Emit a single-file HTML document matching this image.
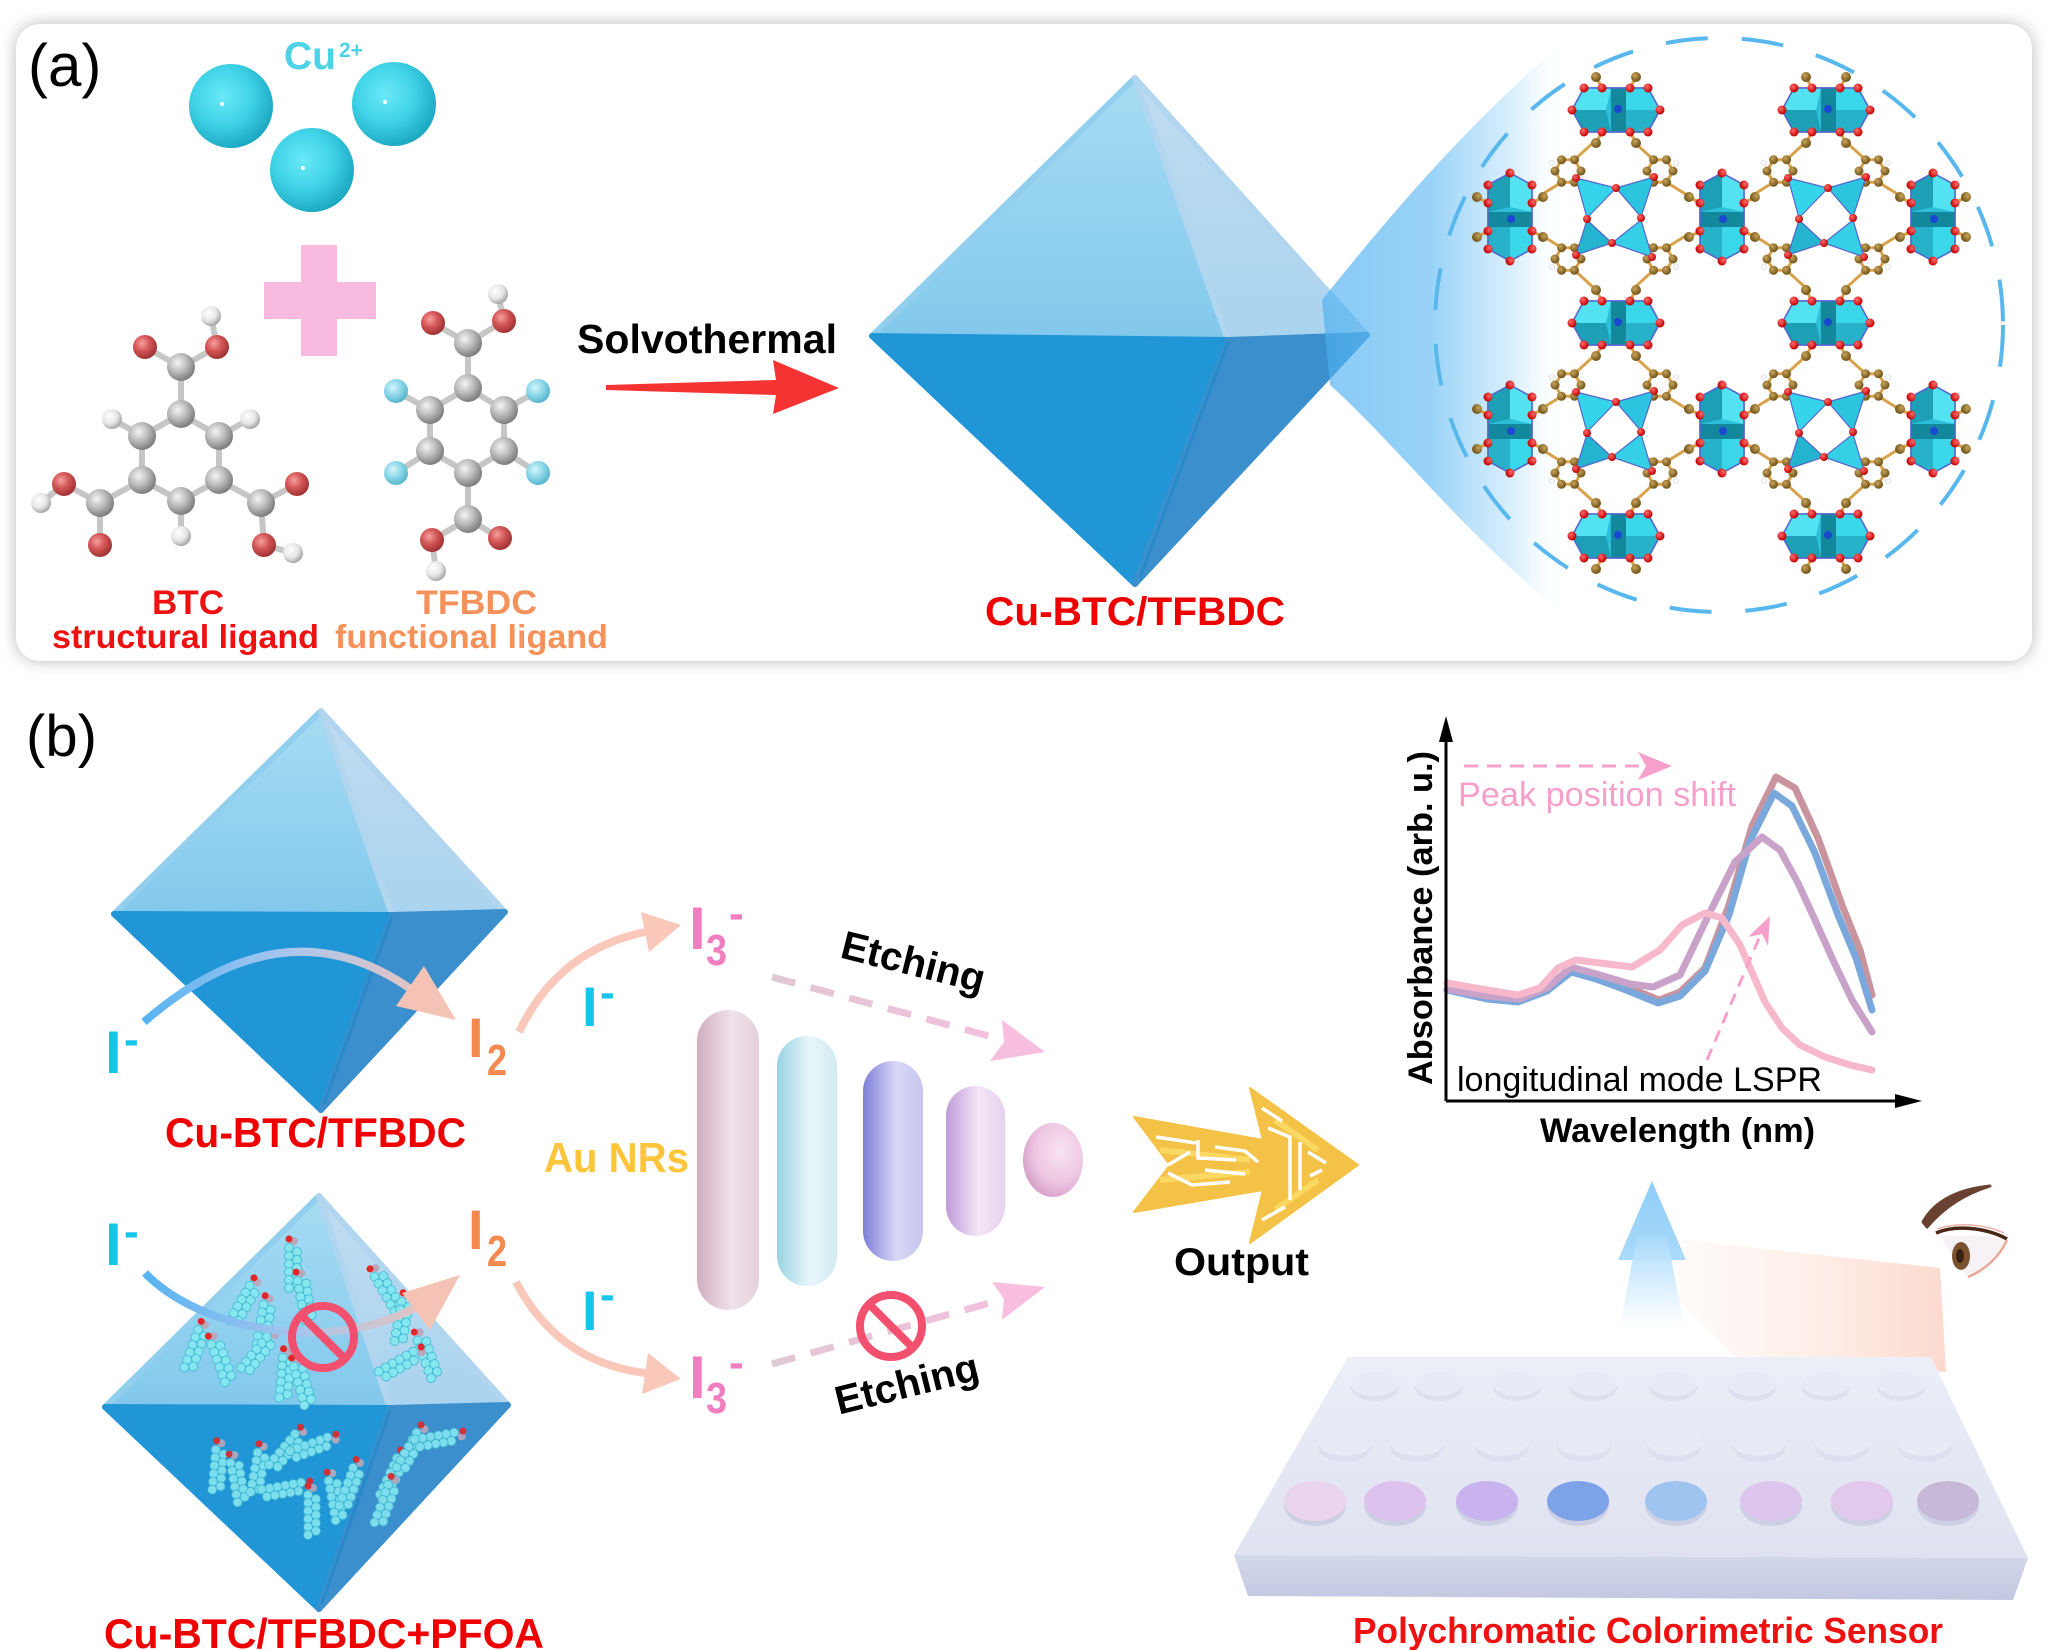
<!DOCTYPE html>
<html><head><meta charset="utf-8"><style>
html,body{margin:0;padding:0;background:#fff;}
svg{display:block;}
text{font-family:"Liberation Sans",Arial,sans-serif;}
</style></head><body>
<svg width="2048" height="1650" viewBox="0 0 2048 1650" xmlns="http://www.w3.org/2000/svg">
<defs>
<filter id="sh" x="-5%" y="-10%" width="110%" height="120%"><feGaussianBlur stdDeviation="8"/></filter>
<radialGradient id="cuG" cx="40%" cy="38%" r="65%"><stop offset="0" stop-color="#6ae9f7"/><stop offset="0.55" stop-color="#3ed2e6"/><stop offset="1" stop-color="#1ba6c0"/></radialGradient>
<radialGradient id="cG" cx="38%" cy="35%" r="65%"><stop offset="0" stop-color="#f4f4f4"/><stop offset="0.5" stop-color="#bdbdbd"/><stop offset="1" stop-color="#7e7e7e"/></radialGradient>
<radialGradient id="oG" cx="38%" cy="35%" r="65%"><stop offset="0" stop-color="#f7a0a0"/><stop offset="0.5" stop-color="#d45656"/><stop offset="1" stop-color="#a03434"/></radialGradient>
<radialGradient id="hG" cx="38%" cy="35%" r="65%"><stop offset="0" stop-color="#ffffff"/><stop offset="0.6" stop-color="#e6e6e6"/><stop offset="1" stop-color="#a8a8a8"/></radialGradient>
<radialGradient id="fG" cx="38%" cy="35%" r="65%"><stop offset="0" stop-color="#d4f6fb"/><stop offset="0.55" stop-color="#8ad6e8"/><stop offset="1" stop-color="#5ab6cc"/></radialGradient>
<radialGradient id="brG" cx="38%" cy="35%" r="65%"><stop offset="0" stop-color="#c9a45a"/><stop offset="1" stop-color="#6e5218"/></radialGradient>
<radialGradient id="rdG" cx="38%" cy="35%" r="65%"><stop offset="0" stop-color="#ff6a6a"/><stop offset="1" stop-color="#c00000"/></radialGradient>
<linearGradient id="beamG" gradientUnits="userSpaceOnUse" x1="1320" y1="0" x2="1566" y2="0">
<stop offset="0" stop-color="#4aaef0" stop-opacity="0.65"/><stop offset="0.45" stop-color="#76c3f5" stop-opacity="0.75"/><stop offset="0.8" stop-color="#bfe4fb" stop-opacity="0.55"/><stop offset="1" stop-color="#ffffff" stop-opacity="0"/></linearGradient>
<linearGradient id="ulG" x1="0" y1="0" x2="0" y2="1"><stop offset="0" stop-color="#a6dcf3"/><stop offset="1" stop-color="#82c8ec"/></linearGradient>
<linearGradient id="urG" x1="0" y1="0" x2="0" y2="1"><stop offset="0" stop-color="#c0ddf1"/><stop offset="1" stop-color="#a9d3ef"/></linearGradient>
<linearGradient id="arcG1" gradientUnits="userSpaceOnUse" x1="144" y1="0" x2="456" y2="0"><stop offset="0" stop-color="#58b4f2"/><stop offset="0.45" stop-color="#a8c6ee"/><stop offset="1" stop-color="#f6c3b4"/></linearGradient>
<linearGradient id="arcG2" gradientUnits="userSpaceOnUse" x1="145" y1="0" x2="460" y2="0"><stop offset="0" stop-color="#58b4f2"/><stop offset="0.5" stop-color="#a9c4ec"/><stop offset="1" stop-color="#f6c3b4"/></linearGradient>
<linearGradient id="dashG" gradientUnits="userSpaceOnUse" x1="772" y1="0" x2="1045" y2="0"><stop offset="0" stop-color="#e0c8d4"/><stop offset="1" stop-color="#f7bedf"/></linearGradient>
<linearGradient id="rod1" x1="0" y1="0" x2="1" y2="0"><stop offset="0" stop-color="#cfadbf"/><stop offset="0.55" stop-color="#f0e2ea"/><stop offset="1" stop-color="#e4d0da"/></linearGradient>
<linearGradient id="rod2" x1="0" y1="0" x2="1" y2="0"><stop offset="0" stop-color="#98d2e2"/><stop offset="0.55" stop-color="#e8f6fa"/><stop offset="1" stop-color="#d2ebf2"/></linearGradient>
<linearGradient id="rod3" x1="0" y1="0" x2="1" y2="0"><stop offset="0" stop-color="#7e7ed6"/><stop offset="0.55" stop-color="#d8d8f7"/><stop offset="1" stop-color="#c6c6ee"/></linearGradient>
<linearGradient id="rod4" x1="0" y1="0" x2="1" y2="0"><stop offset="0" stop-color="#c09ada"/><stop offset="0.55" stop-color="#f3e6f6"/><stop offset="1" stop-color="#e6d2ee"/></linearGradient>
<radialGradient id="rod5" cx="62%" cy="38%" r="70%"><stop offset="0" stop-color="#f8e4f2"/><stop offset="0.6" stop-color="#eec6e2"/><stop offset="1" stop-color="#d29cc6"/></radialGradient>
<linearGradient id="upG" gradientUnits="userSpaceOnUse" x1="0" y1="1236" x2="0" y2="1326"><stop offset="0" stop-color="#a8dafa"/><stop offset="1" stop-color="#ffffff"/></linearGradient>
<linearGradient id="headG" gradientUnits="userSpaceOnUse" x1="0" y1="1181" x2="0" y2="1260"><stop offset="0" stop-color="#8fcdf7"/><stop offset="1" stop-color="#a9dafa"/></linearGradient>
<linearGradient id="peachG" gradientUnits="userSpaceOnUse" x1="1610" y1="0" x2="1946" y2="0"><stop offset="0" stop-color="#fde6dc" stop-opacity="0"/><stop offset="0.5" stop-color="#fcdacd" stop-opacity="0.35"/><stop offset="1" stop-color="#fbcdbd" stop-opacity="0.75"/></linearGradient>
<linearGradient id="plateT" x1="0" y1="0" x2="0" y2="1"><stop offset="0" stop-color="#eceef8"/><stop offset="1" stop-color="#dfe2f0"/></linearGradient>
<linearGradient id="plateF" x1="0" y1="0" x2="0" y2="1"><stop offset="0" stop-color="#d4d8ec"/><stop offset="1" stop-color="#c3c8e1"/></linearGradient>

<g id="rg">
<polygon points="13,0 6.5,11.3 -6.5,11.3 -13,0 -6.5,-11.3 6.5,-11.3" fill="none" stroke="#d8a24c" stroke-width="3"/>
<circle cx="13" cy="0" r="4.5" fill="url(#brG)"/><circle cx="6.5" cy="11.3" r="4.5" fill="url(#brG)"/><circle cx="-6.5" cy="11.3" r="4.5" fill="url(#brG)"/><circle cx="-13" cy="0" r="4.5" fill="url(#brG)"/><circle cx="-6.5" cy="-11.3" r="4.5" fill="url(#brG)"/><circle cx="6.5" cy="-11.3" r="4.5" fill="url(#brG)"/>
</g>

<g id="hc">
<g stroke="#d8a24c" stroke-width="3">
<line x1="-14" y1="-22" x2="-20" y2="-33"/><line x1="14" y1="-22" x2="20" y2="-33"/><line x1="-14" y1="22" x2="-20" y2="33"/><line x1="14" y1="22" x2="20" y2="33"/>
</g>
<polygon points="-44,0 -32,-22 32,-22 44,0 32,22 -32,22" fill="#2bbfd8" stroke="#5566cc" stroke-width="1.5"/>
<polygon points="-44,0 -32,-22 -5,-22 -10,0" fill="#52e2f2"/>
<polygon points="-44,0 -10,0 -5,22 -32,22" fill="#1d9fb6"/>
<polygon points="-5,-22 10,-22 10,22 -5,22" fill="#13889c"/>
<polygon points="10,-22 32,-22 44,0 10,0" fill="#3ad6ea"/>
<polygon points="10,0 44,0 32,22 10,22" fill="#27b2ca"/>
<polygon points="-44,0 -32,-22 32,-22 44,0 32,22 -32,22" fill="none" stroke="#5566cc" stroke-width="1.5"/>
<circle cx="2" cy="-1" r="4" fill="#1a48d0"/>
<g fill="url(#rdG)">
<circle cx="-32" cy="-22" r="4.5"/><circle cx="-14" cy="-22" r="4.5"/><circle cx="14" cy="-22" r="4.5"/><circle cx="32" cy="-22" r="4.5"/><circle cx="-44" cy="0" r="4.5"/><circle cx="44" cy="0" r="4.5"/><circle cx="-32" cy="22" r="4.5"/><circle cx="-14" cy="22" r="4.5"/><circle cx="14" cy="22" r="4.5"/><circle cx="32" cy="22" r="4.5"/>
</g>
<g fill="url(#brG)"><circle cx="-20" cy="-33" r="5"/><circle cx="20" cy="-33" r="5"/><circle cx="-20" cy="33" r="5"/><circle cx="20" cy="33" r="5"/></g>
</g>

<g id="tu">
<g stroke="#d8a24c" stroke-width="3">
<line x1="-39.5" y1="-55.3" x2="-20" y2="-73"/><line x1="-52.5" y1="-32.7" x2="-73" y2="-20"/><line x1="-39.5" y1="-32.7" x2="-30" y2="-28"/>
<line x1="39.5" y1="-55.3" x2="20" y2="-73"/><line x1="52.5" y1="-32.7" x2="73" y2="-20"/><line x1="39.5" y1="-32.7" x2="30" y2="-28"/>
<line x1="-39.5" y1="55.3" x2="-20" y2="73"/><line x1="-52.5" y1="32.7" x2="-73" y2="20"/><line x1="-39.5" y1="32.7" x2="-30" y2="28"/>
<line x1="39.5" y1="55.3" x2="20" y2="73"/><line x1="52.5" y1="32.7" x2="73" y2="20"/><line x1="39.5" y1="32.7" x2="30" y2="28"/>
</g>
<use href="#rg" x="-46" y="-44"/><use href="#rg" x="46" y="-44"/><use href="#rg" x="-46" y="44"/><use href="#rg" x="46" y="44"/>
<g stroke="#5566cc" stroke-width="1.2">
<polygon points="-38,-37 2,-27 -27,3" fill="#36d4ea"/>
<polygon points="2,-27 40,-38 27,2" fill="#2cc4de"/>
<polygon points="-27,5 -38,40 -2,28" fill="#24b4cf"/>
<polygon points="27,5 38,42 -2,28" fill="#35cfe6"/>
</g>
<g fill="url(#rdG)">
<circle cx="-38" cy="-37" r="4"/><circle cx="40" cy="-38" r="4"/><circle cx="-38" cy="40" r="4"/><circle cx="38" cy="42" r="4"/><circle cx="2" cy="-27" r="4"/><circle cx="27" cy="3" r="4"/><circle cx="-2" cy="28" r="4"/><circle cx="-27" cy="4" r="4"/>
</g>
<g fill="#ffffff" stroke="#cccccc" stroke-width="0.6"><circle cx="-62" cy="-52" r="2.5"/><circle cx="62" cy="-52" r="2.5"/><circle cx="-62" cy="52" r="2.5"/><circle cx="62" cy="52" r="2.5"/></g>
</g>

<g id="pf">
<g fill="#86e6f0" stroke="#3fb8d0" stroke-width="0.8">
<circle cx="-4" cy="-20" r="4.5"/><circle cx="4" cy="-16" r="4.5"/><circle cx="-4" cy="-12" r="4.5"/><circle cx="4" cy="-8" r="4.5"/><circle cx="-4" cy="-4" r="4.5"/><circle cx="4" cy="0" r="4.5"/><circle cx="-4" cy="4" r="4.5"/><circle cx="4" cy="8" r="4.5"/><circle cx="-4" cy="12" r="4.5"/><circle cx="4" cy="16" r="4.5"/><circle cx="-4" cy="20" r="4.5"/>
</g>
<circle cx="1" cy="-27" r="4" fill="#b8a8bc"/><circle cx="-4" cy="-29" r="3.5" fill="#e02828"/>
</g>
</defs>

<!-- PANEL A -->
<rect x="16" y="24" width="2016" height="637" rx="24" fill="#b9b9b9" filter="url(#sh)"/>
<rect x="16" y="24" width="2016" height="637" rx="24" fill="#ffffff"/>

<text x="28" y="86" font-size="60">(a)</text>
<text x="284" y="69" font-size="39" font-weight="bold" fill="#4ed2e6">Cu</text>
<text x="339" y="57" font-size="21" font-weight="bold" fill="#4ed2e6">2+</text>

<circle cx="231" cy="106" r="42" fill="url(#cuG)"/>
<circle cx="394" cy="104" r="42" fill="url(#cuG)"/>
<circle cx="312" cy="170" r="42" fill="url(#cuG)"/>
<circle cx="222" cy="104" r="2" fill="#fff"/><circle cx="385" cy="102" r="2" fill="#fff"/><circle cx="303" cy="168" r="2" fill="#fff"/>

<rect x="264" y="282" width="112" height="37" fill="#f9bae0"/>
<rect x="301" y="245" width="36" height="111" fill="#f9bae0"/>

<!-- BTC -->
<g stroke="#c6c6c6" stroke-width="6">
<line x1="181" y1="414" x2="142" y2="436"/><line x1="181" y1="414" x2="219" y2="436"/><line x1="142" y1="436" x2="142" y2="480"/><line x1="219" y1="436" x2="219" y2="480"/><line x1="142" y1="480" x2="181" y2="501"/><line x1="219" y1="480" x2="181" y2="501"/>
<line x1="181" y1="414" x2="181" y2="367"/><line x1="181" y1="367" x2="145" y2="347"/><line x1="181" y1="367" x2="217" y2="347"/><line x1="217" y1="347" x2="211" y2="316"/>
<line x1="142" y1="436" x2="112" y2="419"/><line x1="219" y1="436" x2="250" y2="419"/><line x1="181" y1="501" x2="181" y2="536"/>
<line x1="142" y1="480" x2="100" y2="503"/><line x1="100" y1="503" x2="64" y2="484"/><line x1="64" y1="484" x2="41" y2="503"/><line x1="100" y1="503" x2="100" y2="545"/>
<line x1="219" y1="480" x2="261" y2="503"/><line x1="261" y1="503" x2="297" y2="484"/><line x1="261" y1="503" x2="264" y2="545"/><line x1="264" y1="545" x2="293" y2="553"/>
</g>
<g>
<circle cx="211" cy="316" r="10" fill="url(#hG)"/><circle cx="112" cy="419" r="10" fill="url(#hG)"/><circle cx="250" cy="419" r="10" fill="url(#hG)"/><circle cx="181" cy="536" r="10" fill="url(#hG)"/><circle cx="41" cy="503" r="10" fill="url(#hG)"/><circle cx="293" cy="553" r="10" fill="url(#hG)"/>
<circle cx="145" cy="347" r="12" fill="url(#oG)"/><circle cx="217" cy="347" r="12" fill="url(#oG)"/><circle cx="64" cy="484" r="12" fill="url(#oG)"/><circle cx="100" cy="545" r="12" fill="url(#oG)"/><circle cx="297" cy="484" r="12" fill="url(#oG)"/><circle cx="264" cy="545" r="12" fill="url(#oG)"/>
<circle cx="181" cy="367" r="14" fill="url(#cG)"/><circle cx="181" cy="414" r="14" fill="url(#cG)"/><circle cx="142" cy="436" r="14" fill="url(#cG)"/><circle cx="219" cy="436" r="14" fill="url(#cG)"/><circle cx="142" cy="480" r="14" fill="url(#cG)"/><circle cx="219" cy="480" r="14" fill="url(#cG)"/><circle cx="181" cy="501" r="14" fill="url(#cG)"/><circle cx="100" cy="503" r="14" fill="url(#cG)"/><circle cx="261" cy="503" r="14" fill="url(#cG)"/>
</g>

<!-- TFBDC -->
<g stroke="#c6c6c6" stroke-width="6">
<line x1="468" y1="388" x2="430" y2="410"/><line x1="468" y1="388" x2="504" y2="410"/><line x1="430" y1="410" x2="430" y2="451"/><line x1="504" y1="410" x2="504" y2="451"/><line x1="430" y1="451" x2="468" y2="473"/><line x1="504" y1="451" x2="468" y2="473"/>
<line x1="468" y1="388" x2="468" y2="343"/><line x1="468" y1="343" x2="433" y2="323"/><line x1="468" y1="343" x2="504" y2="321"/><line x1="504" y1="321" x2="498" y2="294"/>
<line x1="430" y1="410" x2="396" y2="391"/><line x1="504" y1="410" x2="538" y2="391"/><line x1="430" y1="451" x2="396" y2="473"/><line x1="504" y1="451" x2="538" y2="473"/>
<line x1="468" y1="473" x2="468" y2="519"/><line x1="468" y1="519" x2="432" y2="540"/><line x1="468" y1="519" x2="500" y2="538"/><line x1="432" y1="540" x2="436" y2="571"/>
</g>
<g>
<circle cx="498" cy="294" r="10" fill="url(#hG)"/><circle cx="436" cy="571" r="10" fill="url(#hG)"/>
<circle cx="433" cy="323" r="12" fill="url(#oG)"/><circle cx="504" cy="321" r="12" fill="url(#oG)"/><circle cx="432" cy="540" r="12" fill="url(#oG)"/><circle cx="500" cy="538" r="12" fill="url(#oG)"/>
<circle cx="396" cy="391" r="12" fill="url(#fG)"/><circle cx="538" cy="391" r="12" fill="url(#fG)"/><circle cx="396" cy="473" r="12" fill="url(#fG)"/><circle cx="538" cy="473" r="12" fill="url(#fG)"/>
<circle cx="468" cy="343" r="14" fill="url(#cG)"/><circle cx="468" cy="388" r="14" fill="url(#cG)"/><circle cx="430" cy="410" r="14" fill="url(#cG)"/><circle cx="504" cy="410" r="14" fill="url(#cG)"/><circle cx="430" cy="451" r="14" fill="url(#cG)"/><circle cx="504" cy="451" r="14" fill="url(#cG)"/><circle cx="468" cy="473" r="14" fill="url(#cG)"/><circle cx="468" cy="519" r="14" fill="url(#cG)"/>
</g>

<text x="152" y="614" font-size="34" font-weight="bold" fill="#ee1111" textLength="72" lengthAdjust="spacingAndGlyphs">BTC</text>
<text x="416" y="614" font-size="34" font-weight="bold" fill="#f5915a" textLength="121" lengthAdjust="spacingAndGlyphs">TFBDC</text>
<text x="52" y="648" font-size="33" font-weight="bold" fill="#ee1111" textLength="267" lengthAdjust="spacingAndGlyphs">structural ligand</text>
<text x="335" y="648" font-size="33" font-weight="bold" fill="#f5915a" textLength="273" lengthAdjust="spacingAndGlyphs">functional ligand</text>

<text x="577" y="353" font-size="41" font-weight="bold" fill="#000" textLength="260" lengthAdjust="spacingAndGlyphs">Solvothermal</text>
<polygon points="606,385 776,380 773,360 839,388 773,414 776,395 606,390" fill="#f63333"/>

<!-- octahedron a -->
<g stroke-linejoin="round" stroke-width="6">
<polygon points="1135,78 872,336 1228,340" fill="url(#ulG)" stroke="#92cfee"/>
<polygon points="1135,78 1228,340 1367,335" fill="url(#urG)" stroke="#b2d6ef"/>
<polygon points="872,336 1228,340 1135,584" fill="#2196d6" stroke="#2196d6"/>
<polygon points="1228,340 1367,335 1135,584" fill="#3b8fcc" stroke="#3b8fcc"/>
</g>
<line x1="1228" y1="342" x2="1140" y2="578" stroke="#1a86c8" stroke-width="3" opacity="0.6"/>

<!-- beam -->
<path d="M1322,300 C1380,228 1460,130 1566,40 L1566,616 C1470,540 1392,440 1330,385 Z" fill="url(#beamG)"/>
<ellipse cx="1719" cy="325" rx="284" ry="287" fill="none" stroke="#58b8ee" stroke-width="4" stroke-dasharray="42 34"/>

<!-- MOF -->
<use href="#tu" x="1614" y="215"/><use href="#tu" x="1826" y="215"/><use href="#tu" x="1614" y="429"/><use href="#tu" x="1826" y="429"/>
<use href="#hc" x="1616" y="110"/><use href="#hc" x="1826" y="110"/><use href="#hc" x="1616" y="323"/><use href="#hc" x="1826" y="323"/><use href="#hc" x="1616" y="536"/><use href="#hc" x="1826" y="536"/>
<use href="#hc" transform="translate(1510,217) rotate(90)"/><use href="#hc" transform="translate(1722,217) rotate(90)"/><use href="#hc" transform="translate(1933,217) rotate(90)"/>
<use href="#hc" transform="translate(1510,429) rotate(90)"/><use href="#hc" transform="translate(1722,429) rotate(90)"/><use href="#hc" transform="translate(1933,429) rotate(90)"/>

<text x="985" y="625" font-size="40" font-weight="bold" fill="#ee0000" textLength="300" lengthAdjust="spacingAndGlyphs">Cu-BTC/TFBDC</text>

<!-- PANEL B -->
<text x="26" y="756" font-size="58">(b)</text>

<!-- octa b1 -->
<g stroke-linejoin="round" stroke-width="6">
<polygon points="321,711 114,914 392,915" fill="url(#ulG)" stroke="#92cfee"/>
<polygon points="321,711 392,915 505,912" fill="url(#urG)" stroke="#b2d6ef"/>
<polygon points="114,914 392,915 321,1110" fill="#2196d6" stroke="#2196d6"/>
<polygon points="392,915 505,912 321,1110" fill="#3b8fcc" stroke="#3b8fcc"/>
</g>
<line x1="392" y1="917" x2="324" y2="1104" stroke="#1a86c8" stroke-width="3" opacity="0.6"/>

<path d="M144,1022 Q285,900 412,990" fill="none" stroke="url(#arcG1)" stroke-width="8"/>
<polygon points="456,1020 424,966 396,1006" fill="#f5c3b5"/>

<text x="165" y="1147" font-size="42" font-weight="bold" fill="#ee0000" textLength="301" lengthAdjust="spacingAndGlyphs">Cu-BTC/TFBDC</text>

<!-- octa b2 -->
<g stroke-linejoin="round" stroke-width="6">
<polygon points="319,1196 105,1407 390,1408" fill="url(#ulG)" stroke="#92cfee"/>
<polygon points="319,1196 390,1408 508,1405" fill="url(#urG)" stroke="#b2d6ef"/>
<polygon points="105,1407 390,1408 319,1609" fill="#2196d6" stroke="#2196d6"/>
<polygon points="390,1408 508,1405 319,1609" fill="#3b8fcc" stroke="#3b8fcc"/>
</g>
<line x1="390" y1="1410" x2="322" y2="1603" stroke="#1a86c8" stroke-width="3" opacity="0.6"/>
<g>
<use href="#pf" transform="translate(293,1268)"/>
<use href="#pf" transform="translate(305,1300) rotate(-10)"/>
<use href="#pf" transform="translate(243,1305) rotate(30)"/>
<use href="#pf" transform="translate(264,1325) rotate(10)"/>
<use href="#pf" transform="translate(195,1350) rotate(20)"/>
<use href="#pf" transform="translate(222,1362) rotate(-20)"/>
<use href="#pf" transform="translate(257,1355) rotate(40)"/>
<use href="#pf" transform="translate(285,1378) rotate(5)"/>
<use href="#pf" transform="translate(303,1385) rotate(-15)"/>
<use href="#pf" transform="translate(388,1292) rotate(-30)"/>
<use href="#pf" transform="translate(402,1322) rotate(10)"/>
<use href="#pf" transform="translate(428,1358) rotate(-20)"/>
<use href="#pf" transform="translate(398,1365) rotate(60)"/>
</g>
<g opacity="0.9">
<use href="#pf" transform="translate(218,1470) rotate(5)"/>
<use href="#pf" transform="translate(238,1482) rotate(-10)"/>
<use href="#pf" transform="translate(258,1473) rotate(10)"/>
<use href="#pf" transform="translate(285,1452) rotate(40)"/>
<use href="#pf" transform="translate(310,1448) rotate(70)"/>
<use href="#pf" transform="translate(282,1490) rotate(80)"/>
<use href="#pf" transform="translate(312,1515)"/>
<use href="#pf" transform="translate(336,1500) rotate(-10)"/>
<use href="#pf" transform="translate(350,1488) rotate(20)"/>
<use href="#pf" transform="translate(392,1478) rotate(25)"/>
<use href="#pf" transform="translate(410,1452) rotate(30)"/>
<use href="#pf" transform="translate(435,1440) rotate(80)"/>
<use href="#pf" transform="translate(385,1505) rotate(20)"/>
</g>

<path d="M145,1273 C200,1330 330,1355 416,1307" fill="none" stroke="url(#arcG2)" stroke-width="8"/>
<polygon points="460,1275 402,1293 430,1330" fill="#f5c3b5"/>
<circle cx="323" cy="1337" r="31" fill="none" stroke="#f2506e" stroke-width="8"/>
<line x1="301" y1="1315" x2="345" y2="1359" stroke="#f2506e" stroke-width="8"/>

<text x="104" y="1648" font-size="42" font-weight="bold" fill="#ee0000" textLength="440" lengthAdjust="spacingAndGlyphs">Cu-BTC/TFBDC+PFOA</text>

<!-- ion labels -->
<g font-weight="bold">
<text x="105" y="1073" font-size="60" fill="#19c4ea">I</text><text x="124" y="1054" font-size="44" fill="#19c4ea">-</text>
<text x="105" y="1265" font-size="60" fill="#19c4ea">I</text><text x="124" y="1246" font-size="44" fill="#19c4ea">-</text>
<text x="582" y="1026" font-size="56" fill="#19c4ea">I</text><text x="600" y="1007" font-size="44" fill="#19c4ea">-</text>
<text x="582" y="1330" font-size="56" fill="#19c4ea">I</text><text x="600" y="1309" font-size="44" fill="#19c4ea">-</text>
<text x="468" y="1057" font-size="56" fill="#f5894f">I</text><text x="487" y="1075" font-size="44" fill="#f5894f" textLength="20" lengthAdjust="spacingAndGlyphs">2</text>
<text x="468" y="1249" font-size="56" fill="#f5894f">I</text><text x="487" y="1266" font-size="44" fill="#f5894f" textLength="20" lengthAdjust="spacingAndGlyphs">2</text>
<text x="689" y="949" font-size="60" fill="#f27dc0">I</text><text x="706" y="965" font-size="44" fill="#f27dc0" textLength="21" lengthAdjust="spacingAndGlyphs">3</text><text x="729" y="928" font-size="44" fill="#f27dc0">-</text>
<text x="689" y="1398" font-size="60" fill="#f27dc0">I</text><text x="706" y="1413" font-size="44" fill="#f27dc0" textLength="21" lengthAdjust="spacingAndGlyphs">3</text><text x="729" y="1377" font-size="44" fill="#f27dc0">-</text>
</g>

<!-- I2 -> I3 arrows -->
<path d="M519,1032 Q558,950 645,932" fill="none" stroke="#f9c8ba" stroke-width="8"/>
<polygon points="681,925 649,952 641,912" fill="#f9c8ba"/>
<path d="M516,1282 Q558,1362 645,1373" fill="none" stroke="#f9c8ba" stroke-width="8"/>
<polygon points="681,1379 642,1394 648,1353" fill="#f9c8ba"/>

<!-- etching dashed arrows -->
<line x1="772" y1="977" x2="1000" y2="1039" stroke="url(#dashG)" stroke-width="7" stroke-dasharray="24 16"/>
<polygon points="1045,1052 1002,1020 1004,1042 990,1061" fill="#f7bedf"/>
<line x1="772" y1="1364" x2="1000" y2="1300" stroke="url(#dashG)" stroke-width="7" stroke-dasharray="24 16"/>
<polygon points="1045,1287 992,1282 1004,1299 1002,1320" fill="#f7bedf"/>
<circle cx="891" cy="1326" r="31" fill="none" stroke="#f2506e" stroke-width="8"/>
<line x1="869" y1="1304" x2="913" y2="1348" stroke="#f2506e" stroke-width="8"/>

<text transform="translate(910,975) rotate(14)" text-anchor="middle" font-size="40" font-weight="bold" fill="#000">Etching</text>
<text transform="translate(910,1397) rotate(-14)" text-anchor="middle" font-size="40" font-weight="bold" fill="#000">Etching</text>

<text x="544" y="1172" font-size="42" font-weight="bold" fill="#fcc53c" textLength="145" lengthAdjust="spacingAndGlyphs">Au NRs</text>

<!-- nanorods -->
<rect x="697" y="1010" width="62" height="300" rx="31" fill="url(#rod1)"/>
<rect x="777" y="1036" width="60" height="250" rx="30" fill="url(#rod2)"/>
<rect x="863" y="1061" width="60" height="200" rx="30" fill="url(#rod3)"/>
<rect x="946" y="1086" width="59" height="150" rx="29.5" fill="url(#rod4)"/>
<ellipse cx="1053" cy="1160" rx="30" ry="37" fill="url(#rod5)"/>

<!-- Output arrow -->
<polygon points="1134,1117 1263,1140 1250,1088 1358,1165 1250,1243 1263,1190 1134,1212 1170,1165" fill="#f4c247" stroke="#f4c247" stroke-width="2" stroke-linejoin="round"/>
<g fill="none" stroke="#fbd861" stroke-width="6">
<path d="M1160,1150 L1250,1160"/><path d="M1160,1180 L1250,1172"/><path d="M1275,1120 L1318,1150"/><path d="M1275,1210 L1318,1180"/>
</g>
<g fill="none" stroke="#ffffff" stroke-width="3.5">
<path d="M1156,1137 L1196,1143"/><path d="M1198,1140 L1198,1158 L1236,1160"/><path d="M1168,1165 L1190,1152"/>
<path d="M1168,1173 L1192,1185 L1230,1182"/><path d="M1205,1170 L1245,1174"/><path d="M1215,1147 L1245,1151 L1258,1162"/>
<path d="M1262,1108 L1282,1121"/><path d="M1268,1128 L1290,1137 L1290,1200"/><path d="M1300,1142 L1300,1190"/>
<path d="M1308,1152 L1326,1163"/><path d="M1262,1220 L1285,1207"/><path d="M1310,1176 L1322,1170"/>
</g>
<text x="1174" y="1275" font-size="39" font-weight="bold" fill="#000" textLength="135" lengthAdjust="spacingAndGlyphs">Output</text>

<!-- Chart -->
<polyline points="1448,989 1487,996 1523,999 1547,989 1572,968 1600,976 1630,988 1659,1000 1680,992 1705,968 1729,905 1752,826 1776,777 1795,788 1818,838 1842,905 1860,950 1872,995" fill="none" stroke="#c9949e" stroke-width="7" stroke-linejoin="round" stroke-linecap="round"/>
<polyline points="1447,990 1487,999 1518,1002 1547,991 1571,972 1596,979 1626,990 1658,1003 1680,996 1705,971 1729,915 1750,841 1774,793 1792,806 1815,853 1838,915 1856,958 1872,1010" fill="none" stroke="#7ba8dc" stroke-width="7" stroke-linejoin="round" stroke-linecap="round"/>
<polyline points="1447,989 1487,996 1520,999 1547,988 1571,967 1600,975 1630,984 1653,987 1680,975 1711,910 1735,862 1762,837 1780,850 1798,883 1815,920 1833,960 1852,1000 1872,1032" fill="none" stroke="#c8a2c8" stroke-width="7" stroke-linejoin="round" stroke-linecap="round"/>
<polyline points="1447,983 1487,990 1518,995 1540,988 1558,968 1576,960 1600,963 1632,967 1660,950 1682,925 1705,913 1722,918 1740,945 1765,1002 1782,1028 1800,1045 1825,1057 1850,1065 1872,1070" fill="none" stroke="#f8b8cc" stroke-width="7" stroke-linejoin="round" stroke-linecap="round"/>

<line x1="1446" y1="1101" x2="1446" y2="738" stroke="#000" stroke-width="3"/>
<polygon points="1446,716 1439,742 1453,742" fill="#000"/>
<line x1="1446" y1="1101" x2="1898" y2="1101" stroke="#000" stroke-width="3"/>
<polygon points="1922,1101 1895,1094 1895,1108" fill="#000"/>

<line x1="1464" y1="766" x2="1648" y2="766" stroke="#f7a0cc" stroke-width="3" stroke-dasharray="14 9"/>
<polygon points="1672,766 1638,752 1646,766 1638,780" fill="#f7a0cc"/>
<line x1="1707" y1="1060" x2="1760" y2="936" stroke="#f7a0cc" stroke-width="3" stroke-dasharray="12 8"/>
<polygon points="1770,916 1768,946 1762,934 1748,937" fill="#f7a0cc"/>

<text x="1458" y="806" font-size="34" fill="#f79fcb" textLength="278" lengthAdjust="spacingAndGlyphs">Peak position shift</text>
<text x="1457" y="1091" font-size="34" fill="#000" textLength="365" lengthAdjust="spacingAndGlyphs">longitudinal mode LSPR</text>
<text transform="translate(1432,918) rotate(-90)" text-anchor="middle" font-size="34" font-weight="bold" fill="#000" textLength="334" lengthAdjust="spacingAndGlyphs">Absorbance (arb. u.)</text>
<text x="1540" y="1142" font-size="34" font-weight="bold" fill="#000" textLength="275" lengthAdjust="spacingAndGlyphs">Wavelength (nm)</text>

<!-- peach beam & eye -->
<polygon points="1610,1232 1940,1268 1946,1372 1735,1357" fill="url(#peachG)"/>
<path d="M1923,1222 C1935,1200 1960,1189 1990,1186 C1965,1194 1945,1206 1927,1227 Z" fill="#6a4030" stroke="#6a4030" stroke-width="3" stroke-linejoin="round"/>
<path d="M1940,1236 C1965,1234 1990,1236 2006,1240 C1995,1258 1980,1272 1968,1277 C1958,1265 1948,1250 1940,1236 Z" fill="#f6f2f6"/>
<ellipse cx="1961" cy="1256" rx="9" ry="14" fill="#7a5230"/>
<ellipse cx="1960" cy="1256" rx="4" ry="7" fill="#3a2010"/>
<path d="M1936,1233 C1955,1225 1985,1227 2007,1239" fill="none" stroke="#4a2818" stroke-width="3.5"/>
<path d="M1937,1229 C1958,1222 1985,1224 2004,1233" fill="none" stroke="#e8b0a8" stroke-width="1.5"/>
<path d="M1968,1277 C1985,1270 2000,1256 2007,1240" fill="none" stroke="#e8a898" stroke-width="2.5"/>

<!-- up arrow -->
<polygon points="1652,1181 1686,1260 1618,1260" fill="url(#headG)"/>
<polygon points="1637,1236 1667,1236 1684,1326 1620,1326" fill="url(#upG)" opacity="0.95"/>

<!-- plate -->
<polygon points="1234,1555 2028,1558 2013,1600 1248,1596" fill="url(#plateF)"/>
<polygon points="1348,1357 1931,1357 2028,1558 1234,1555" fill="url(#plateT)"/>
<g fill="#dde0ee">
<ellipse cx="1375" cy="1388" rx="24" ry="13"/><ellipse cx="1439" cy="1388" rx="24" ry="13"/><ellipse cx="1517" cy="1388" rx="24" ry="13"/><ellipse cx="1593" cy="1388" rx="24" ry="13"/><ellipse cx="1673" cy="1388" rx="24" ry="13"/><ellipse cx="1752" cy="1388" rx="24" ry="13"/><ellipse cx="1826" cy="1388" rx="24" ry="13"/><ellipse cx="1901" cy="1388" rx="24" ry="13"/>
<ellipse cx="1345" cy="1447" rx="27" ry="15"/><ellipse cx="1417" cy="1447" rx="27" ry="15"/><ellipse cx="1502" cy="1447" rx="27" ry="15"/><ellipse cx="1584" cy="1447" rx="27" ry="15"/><ellipse cx="1674" cy="1447" rx="27" ry="15"/><ellipse cx="1759" cy="1447" rx="27" ry="15"/><ellipse cx="1842" cy="1447" rx="27" ry="15"/><ellipse cx="1925" cy="1447" rx="27" ry="15"/>
</g>
<g fill="#e8eaf5">
<ellipse cx="1375" cy="1384" rx="24" ry="12"/><ellipse cx="1439" cy="1384" rx="24" ry="12"/><ellipse cx="1517" cy="1384" rx="24" ry="12"/><ellipse cx="1593" cy="1384" rx="24" ry="12"/><ellipse cx="1673" cy="1384" rx="24" ry="12"/><ellipse cx="1752" cy="1384" rx="24" ry="12"/><ellipse cx="1826" cy="1384" rx="24" ry="12"/><ellipse cx="1901" cy="1384" rx="24" ry="12"/>
<ellipse cx="1345" cy="1442" rx="27" ry="14"/><ellipse cx="1417" cy="1442" rx="27" ry="14"/><ellipse cx="1502" cy="1442" rx="27" ry="14"/><ellipse cx="1584" cy="1442" rx="27" ry="14"/><ellipse cx="1674" cy="1442" rx="27" ry="14"/><ellipse cx="1759" cy="1442" rx="27" ry="14"/><ellipse cx="1842" cy="1442" rx="27" ry="14"/><ellipse cx="1925" cy="1442" rx="27" ry="14"/>
</g>
<g fill="#cdd0e4">
<ellipse cx="1315" cy="1505" rx="31" ry="21"/><ellipse cx="1395" cy="1505" rx="31" ry="21"/><ellipse cx="1487" cy="1505" rx="31" ry="21"/><ellipse cx="1578" cy="1505" rx="31" ry="21"/><ellipse cx="1676" cy="1505" rx="31" ry="21"/><ellipse cx="1771" cy="1505" rx="31" ry="21"/><ellipse cx="1862" cy="1505" rx="31" ry="21"/><ellipse cx="1948" cy="1505" rx="31" ry="21"/>
</g>
<ellipse cx="1315" cy="1501" rx="31" ry="20" fill="#ead4ee"/>
<ellipse cx="1395" cy="1501" rx="31" ry="20" fill="#dcc2ec"/>
<ellipse cx="1487" cy="1501" rx="31" ry="20" fill="#c9b3ee"/>
<ellipse cx="1578" cy="1501" rx="31" ry="20" fill="#7ea2e8"/>
<ellipse cx="1676" cy="1501" rx="31" ry="20" fill="#a0c4f0"/>
<ellipse cx="1771" cy="1501" rx="31" ry="20" fill="#dcc6ee"/>
<ellipse cx="1862" cy="1501" rx="31" ry="20" fill="#e2c8ea"/>
<ellipse cx="1948" cy="1501" rx="31" ry="20" fill="#c8b8d8"/>

<text x="1353" y="1643" font-size="36" font-weight="bold" fill="#ee1111" textLength="590" lengthAdjust="spacingAndGlyphs">Polychromatic Colorimetric Sensor</text>
</svg>
</body></html>
